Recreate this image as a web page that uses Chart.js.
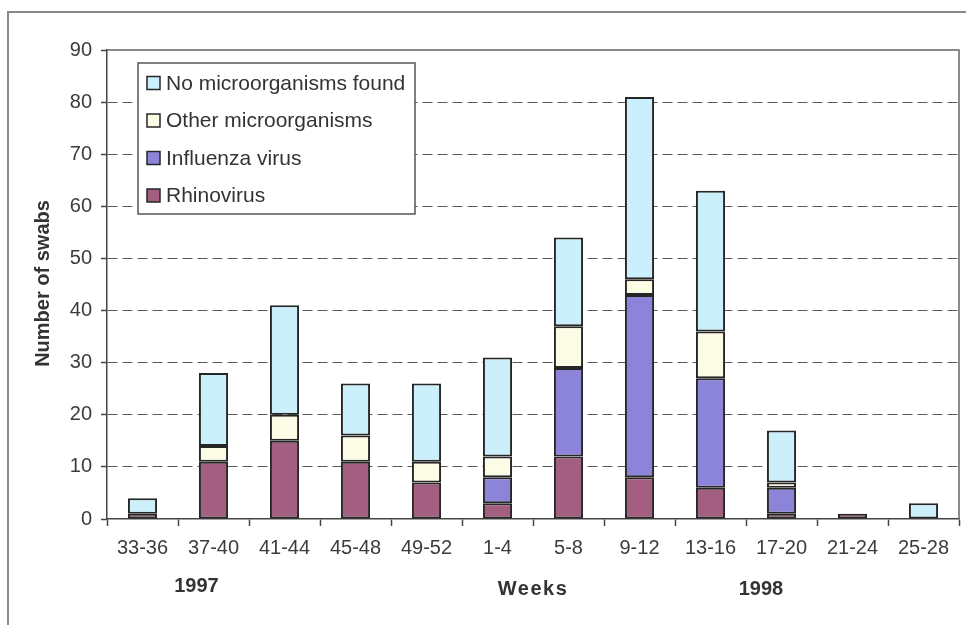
<!DOCTYPE html>
<html>
<head>
<meta charset="utf-8">
<title>Respiratory swabs by week, 1997–1998</title>
<script src="https://cdn.jsdelivr.net/npm/chart.js@4/dist/chart.umd.min.js"></script>
<style>
  html, body { margin: 0; padding: 0; background: #ffffff; }
  #wrap { position: relative; width: 966px; height: 625px; }
  canvas { display: block; }
</style>
</head>
<body>
<div id="wrap"><canvas id="chart" width="966" height="625"></canvas></div>
<script>
// Four-week periods
const weeks = ['33-36', '37-40', '41-44', '45-48', '49-52', '1-4', '5-8', '9-12', '13-16', '17-20', '21-24', '25-28'];

// Swab counts per period, stacked from the bottom up
const rhinovirus    = [1, 11, 15, 11, 7, 3, 12, 8, 6, 1, 1, 0];
const influenza     = [0, 0, 0, 0, 0, 5, 17, 35, 21, 5, 0, 0];
const otherMicro    = [0, 3, 5, 5, 4, 4, 8, 3, 9, 1, 0, 0];
const noMicro       = [3, 14, 21, 10, 15, 19, 17, 35, 27, 10, 0, 3];

const seriesNames = ['Rhinovirus', 'Influenza virus', 'Other microorganisms', 'No microorganisms found'];
const seriesColors = ['#a35f7f', '#8c84d8', '#fcfce6', '#ccf0fb'];

const yTicks = [0, 10, 20, 30, 40, 50, 60, 70, 80, 90];
const yearLabels = ['1997', '1998'];
const xTitle = 'Weeks';
const yTitle = 'Number of swabs';

const FONT = '"Liberation Sans", Arial, sans-serif';
const EDGE = '#262626';

// Empty segments are left out so they leave no outline behind
const datasets = [rhinovirus, influenza, otherMicro, noMicro].map((vals, i) => ({
  label: seriesNames[i],
  data: vals.map(v => (v === 0 ? null : v)),
  backgroundColor: seriesColors[i],
  borderColor: EDGE,
  borderWidth: 2,
  borderSkipped: false,
  stack: 'swabs',
  barPercentage: 0.41,
  categoryPercentage: 1.0
}));

// Figure frame, plot frame, titles, year markers and boxed legend
const decorations = {
  id: 'decorations',
  beforeDraw(chart) {
    const ctx = chart.ctx;
    ctx.save();
    ctx.fillStyle = '#ffffff';
    ctx.fillRect(0, 0, chart.width, chart.height);
    ctx.strokeStyle = '#8a8a8a';
    ctx.lineWidth = 2;
    ctx.beginPath();
    ctx.moveTo(8, chart.height);
    ctx.lineTo(8, 12);
    ctx.lineTo(chart.width, 12);
    ctx.stroke();
    ctx.restore();
  },
  beforeDatasetsDraw(chart) {
    const {ctx, chartArea: a} = chart;
    ctx.save();
    ctx.strokeStyle = '#666666';
    ctx.lineWidth = 1.5;
    ctx.beginPath();
    ctx.moveTo(a.left, a.top);
    ctx.lineTo(a.right, a.top);
    ctx.lineTo(a.right, a.bottom);
    ctx.stroke();
    ctx.restore();
  },
  afterDraw(chart) {
    const {ctx, chartArea: a, scales} = chart;
    const x = scales.x;
    ctx.save();

    // Axis titles
    ctx.fillStyle = '#333333';
    ctx.font = 'bold 20px ' + FONT;
    ctx.textAlign = 'center';
    ctx.textBaseline = 'middle';
    ctx.save();
    ctx.translate(43, (a.top + a.bottom) / 2 - 1);
    ctx.rotate(-Math.PI / 2);
    ctx.fillText(yTitle, 0, 0);
    ctx.restore();

    ctx.save();
    ctx.letterSpacing = '1.5px';
    ctx.fillText(xTitle, (a.left + a.right) / 2, 589);
    ctx.restore();

    // Year markers beneath the period labels
    const step = x.getPixelForValue(1) - x.getPixelForValue(0);
    ctx.fillText(yearLabels[0], x.getPixelForValue(1) - 0.24 * step, 586);
    ctx.fillText(yearLabels[1], x.getPixelForValue(9) - 0.29 * step, 589);

    // Legend box, top series first
    const lx = 138, ly = 63, lw = 277, lh = 151;
    ctx.fillStyle = '#ffffff';
    ctx.fillRect(lx, ly, lw, lh);
    ctx.strokeStyle = '#555555';
    ctx.lineWidth = 1.5;
    ctx.strokeRect(lx, ly, lw, lh);
    ctx.font = '21px ' + FONT;
    ctx.textAlign = 'left';
    ctx.textBaseline = 'middle';
    const order = chart.data.datasets.slice().reverse();
    order.forEach((ds, i) => {
      const cy = 83 + i * 37.5;
      ctx.fillStyle = ds.backgroundColor;
      ctx.fillRect(147, cy - 6.5, 13, 13);
      ctx.strokeStyle = EDGE;
      ctx.lineWidth = 1.5;
      ctx.strokeRect(147, cy - 6.5, 13, 13);
      ctx.fillStyle = '#333333';
      ctx.fillText(ds.label, 166, cy + 1);
    });
    ctx.restore();
  }
};

new Chart(document.getElementById('chart'), {
  type: 'bar',
  data: { labels: weeks, datasets },
  options: {
    responsive: false,
    animation: false,
    layout: { padding: { top: 50, right: 7, left: 0, bottom: 0 } },
    plugins: {
      legend: { display: false },
      tooltip: { enabled: false },
      title: { display: false }
    },
    scales: {
      x: {
        stacked: true,
        offset: true,
        grid: {
          display: true,
          offset: true,
          drawOnChartArea: false,
          drawTicks: true,
          tickLength: 7,
          tickColor: '#444444',
          tickWidth: 1.5
        },
        border: { display: true, color: '#444444', width: 1.5 },
        ticks: {
          font: { family: FONT, size: 20 },
          color: '#3c3c3c',
          padding: 10,
          maxRotation: 0,
          autoSkip: false
        },
        afterFit(scale) { scale.height = 106; }
      },
      y: {
        stacked: true,
        min: 0,
        max: 90,
        afterBuildTicks(scale) { scale.ticks = yTicks.map(v => ({ value: v })); },
        grid: {
          display: true,
          drawTicks: true,
          tickLength: 6,
          tickColor: '#444444',
          tickWidth: 1.5,
          lineWidth: 1,
          color: (c) => (c.tick && (c.tick.value === 0 || c.tick.value === 90)) ? 'rgba(0,0,0,0)' : '#5a5a5a'
        },
        border: { display: true, color: '#444444', width: 1.5, dash: [10, 5] },
        ticks: {
          font: { family: FONT, size: 20 },
          color: '#3c3c3c',
          padding: 9
        },
        afterFit(scale) { scale.width = 107; }
      }
    }
  },
  plugins: [decorations]
});
</script>
</body>
</html>
